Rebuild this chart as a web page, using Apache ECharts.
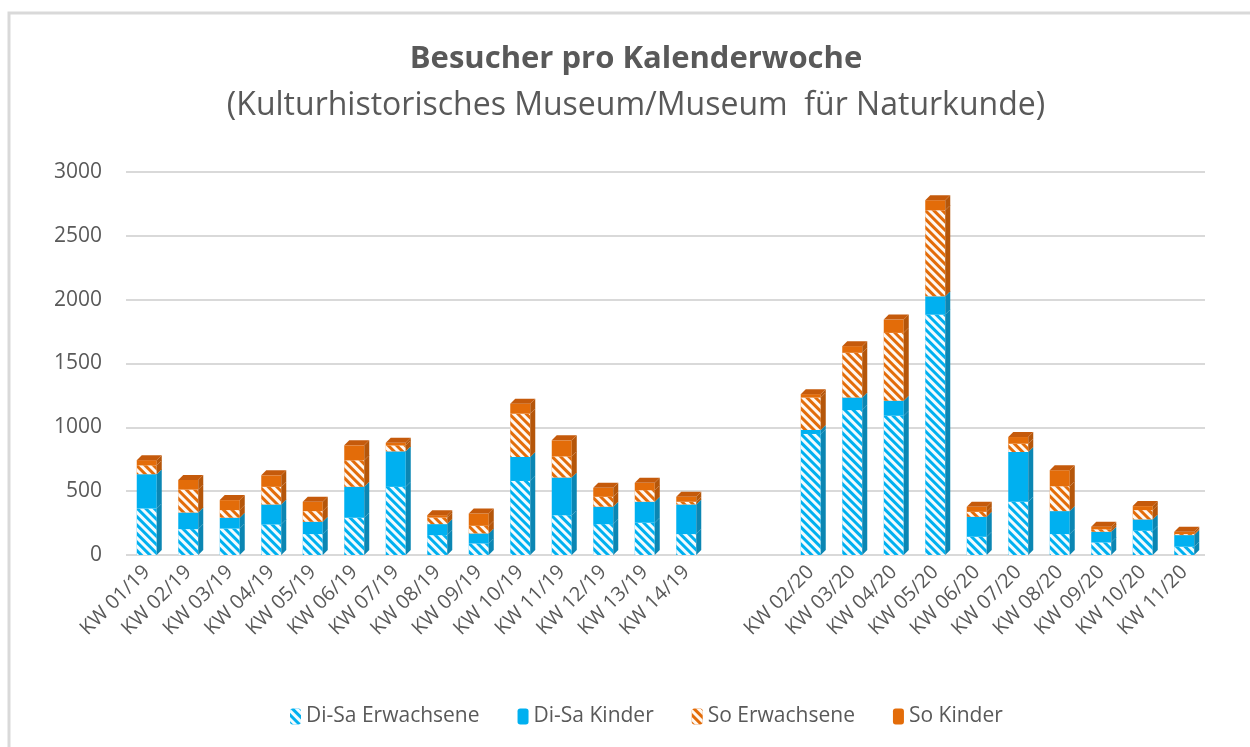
<!DOCTYPE html>
<html>
<head>
<meta charset="utf-8">
<script src="https://cdn.jsdelivr.net/npm/echarts@6/dist/echarts.min.js"></script>
<style>
  html, body { margin: 0; padding: 0; background: #fff; }
  #chart { width: 1250px; height: 747px; }
</style>
</head>
<body>
<div id="chart"></div>
<script>
// Kalenderwochen (two empty slots between 2019 and 2020)
var weeks = ['KW 01/19','KW 02/19','KW 03/19','KW 04/19','KW 05/19','KW 06/19','KW 07/19',
  'KW 08/19','KW 09/19','KW 10/19','KW 11/19','KW 12/19','KW 13/19','KW 14/19','','',
  'KW 02/20','KW 03/20','KW 04/20','KW 05/20','KW 06/20','KW 07/20','KW 08/20','KW 09/20',
  'KW 10/20','KW 11/20']

var diSaErwachsene = [365,203,208,240,164,292,534,156,91,580,312,242,253,164,null,null,
  948,1135,1091,1883,143,417,164,99,190,65]
var diSaKinder = [268,130,84,156,96,242,278,86,78,188,295,136,164,232,null,null,
  31,99,117,143,156,390,180,83,89,91]
var soErwachsene = [70,180,60,138,84,208,47,52,60,339,166,78,91,21,null,null,
  255,350,532,675,39,65,195,20,73,8]
var soKinder = [40,75,78,90,73,117,20,18,96,78,125,70,57,39,null,null,
  26,52,104,78,39,52,125,20,31,18]

var yTicks = [0,500,1000,1500,2000,2500,3000]

var blue = '#00b0f0'
var orange = '#e36c09'
var txt = '#595959'
var font = 'Open Sans'

var hatch = {
  color: 'rgba(255,255,255,0.95)',
  dashArrayX: [1, 0],
  dashArrayY: [3, 3],
  rotation: Math.PI / 4
}

var stacks = [diSaErwachsene, diSaKinder, soErwachsene, soKinder]
var sideColors = ['#0b86b3', '#0b86b3', '#b5560a', '#b5560a']
var BW = 20, DX = 5, DY = 5

var chart = echarts.init(document.getElementById('chart'))

function bar(name, data, color, decal) {
  return {
    name: name,
    type: 'bar',
    stack: 'all',
    barWidth: BW,
    data: data,
    itemStyle: { color: color, decal: decal || null },
    z: 3
  }
}

chart.setOption({
  backgroundColor: '#fff',
  title: [
    { text: 'Besucher pro Kalenderwoche', left: 631, textAlign: 'center', top: 39,
      textStyle: { fontFamily: font, fontSize: 31, fontWeight: 'bold', color: txt } },
    { text: '(Kulturhistorisches Museum/Museum  für Naturkunde)', left: 631, textAlign: 'center', top: 85,
      textStyle: { fontFamily: font, fontSize: 32, fontWeight: 'normal', color: txt } }
  ],
  legend: {
    bottom: 15,
    left: 285,
    itemWidth: 11,
    itemHeight: 16,
    itemGap: 38,
    textStyle: { fontFamily: font, fontSize: 21, color: txt },
    data: ['Di-Sa Erwachsene', 'Di-Sa Kinder', 'So Erwachsene', 'So Kinder']
  },
  grid: { left: 126, right: 45, top: 172, bottom: 192 },
  xAxis: {
    type: 'category',
    data: weeks,
    axisTick: { show: false },
    axisLine: { show: false },
    axisLabel: { rotate: 45, interval: 0, margin: 14, fontFamily: font, fontSize: 20, color: txt }
  },
  yAxis: {
    type: 'value',
    min: 0,
    max: yTicks[yTicks.length - 1],
    interval: 500,
    axisLine: { show: false },
    axisTick: { show: false },
    axisLabel: { margin: 24, fontFamily: font, fontSize: 21, color: txt,
      formatter: function (v) { return String(v) } },
    splitLine: { lineStyle: { color: '#d9d9d9', width: 2 } }
  },
  graphic: [
    { type: 'polyline', shape: { points: [[9, 747], [9, 13], [1250, 13]] },
      style: { stroke: '#d9d9d9', lineWidth: 3, fill: null }, silent: true }
  ],
  series: [
    bar('Di-Sa Erwachsene', diSaErwachsene, blue, hatch),
    bar('Di-Sa Kinder', diSaKinder, blue),
    bar('So Erwachsene', soErwachsene, orange, hatch),
    bar('So Kinder', soKinder, orange),
    {
      // right side and top cap of each column (3D look)
      type: 'custom',
      z: 4,
      silent: true,
      data: weeks.map(function (w, i) { return i }),
      renderItem: function (params, api) {
        var i = params.dataIndex
        if (stacks[0][i] == null) return
        var kids = []
        var cum = 0
        var topY = 0, x0 = 0
        for (var s = 0; s < stacks.length; s++) {
          var lo = api.coord([i, cum])
          cum += stacks[s][i]
          var hi = api.coord([i, cum])
          var xr = lo[0] + BW / 2
          kids.push({
            type: 'polygon',
            shape: { points: [[xr, lo[1]], [xr + DX, lo[1] - DY], [xr + DX, hi[1] - DY], [xr, hi[1]]] },
            style: { fill: sideColors[s] }
          })
          topY = hi[1]; x0 = hi[0]
        }
        var xl = x0 - BW / 2, xr2 = x0 + BW / 2
        kids.push({
          type: 'polygon',
          shape: { points: [[xl, topY], [xl + DX, topY - DY], [xr2 + DX, topY - DY], [xr2, topY]] },
          style: { fill: '#c55a0b' }
        })
        return { type: 'group', children: kids }
      }
    }
  ]
})
</script>
</body>
</html>
